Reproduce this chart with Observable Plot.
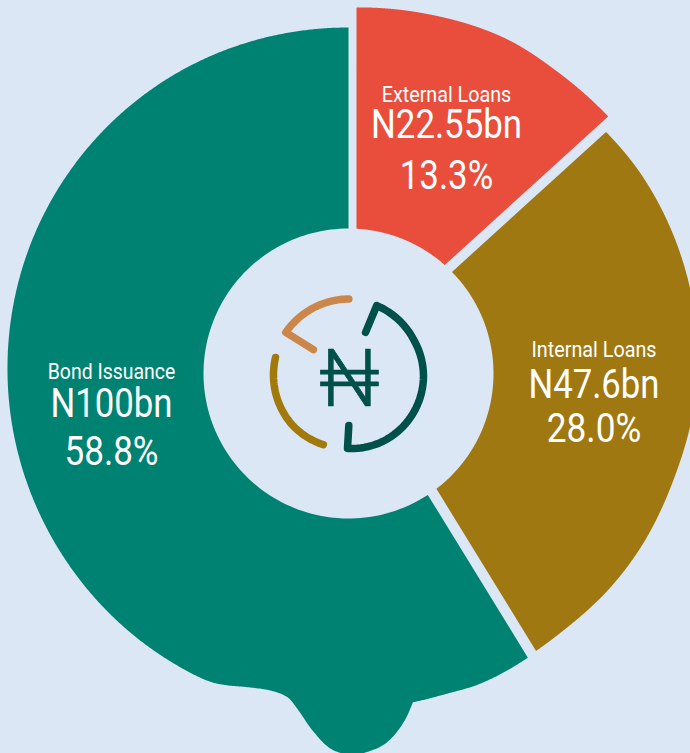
<!DOCTYPE html>
<html>
<head>
<meta charset="utf-8">
<script src="https://cdn.jsdelivr.net/npm/d3@7"></script>
<script src="https://cdn.jsdelivr.net/npm/@observablehq/plot@0.6"></script>
<style>
  html, body { margin: 0; padding: 0; background: #dbe7f5; overflow: hidden; }
  svg { display: block; }
</style>
</head>
<body>
<div id="chart"></div>
<script>
// --- Chart values -------------------------------------------------------
const sliceNames = ["External Loans", "Internal Loans", "Bond Issuance"];
const sliceValues = [22.55, 47.6, 100];
const sliceColors = ["#e94e3d", "#9f7811", "#008272"];

// Outer edge of each slice: radius at a clock angle (degrees)
const externalAngles = [0, 12, 25, 35, 48];
const externalRadii = [366, 368, 370, 367, 365];
const internalAngles = [46, 56, 76, 90, 98, 108, 121, 130, 140, 149];
const internalRadii = [353, 354, 352, 349, 346, 342, 340, 338, 335, 335];
const bondAngles = [147, 157, 163, 168.9, 171, 174, 177.2, 179.7, 182.7, 185.5, 188.7, 190.7, 193.8, 197.9, 201.8, 204.4, 210, 240, 270, 300, 330, 361];
const bondRadii = [336, 337, 335, 335, 353, 370.7, 379, 381, 375.7, 360.4, 339, 329.4, 326.5, 329.6, 335.4, 338, 338.5, 339, 341, 344, 346, 346];
const bondCorners = [168.9];

// Centre emblem arcs: clock angle and radius
const emblemNames = ["dark", "orange", "gold"];
const emblemColors = ["#00504a", "#cd864a", "#a27a0c"];
const darkAngles = [20, 21, 60, 90, 120, 150, 181.6, 180.8];
const darkRadii = [47, 76, 74, 74, 73.5, 73, 72, 49];
const orangeAngles = [359.5, 340, 320, 304.7, 306.6];
const orangeRadii = [77.5, 77.5, 77.5, 77.5, 45];
const goldAngles = [284.4, 270, 250, 230, 215, 201];
const goldRadii = [76.4, 76, 75.5, 75, 74, 73];

// --- Layout (separate from the values) ----------------------------------
const W = 690, H = 753;
const CX = 348, CY = 373, INNER = 145;
// signed shift of each slice edge from its radial line [start, end]
const edgeShift = [[8, -15.5], [-5.5, -14.5], [-4, 0]];
const labelLayout = [
  {x: 446, ys: [101.5, 137.5, 188], ws: [129.5, 151, 93.5]},
  {x: 593.5, ys: [356.2, 397, 441.5], ws: [125, 131, 94.5]},
  {x: 111, ys: [378.5, 416, 464], ws: [127.5, 122, 94]}
];
const labelSizes = [22, 40, 40];
const EMBLEM_C = {x: 349, y: 376};

// --- Geometry -----------------------------------------------------------
const rad = d => d * Math.PI / 180;
const polar = (a, r, c = {x: CX, y: CY}) => ({x: c.x - CX + r * Math.sin(rad(a)), y: c.y - CY - r * Math.cos(rad(a))});
const deg = t => t * 180 / Math.PI;

// smooth reading of an angle/radius table (Catmull-Rom through the read points);
// a listed corner keeps a sharp bend
function radiusAt(angles, radii, a, corners = []) {
  let i = d3.bisectRight(angles, a) - 1;
  i = Math.max(0, Math.min(angles.length - 2, i));
  const h = angles[i + 1] - angles[i];
  const t = (a - angles[i]) / h;
  const p0 = radii[Math.max(0, i - 1)], p1 = radii[i], p2 = radii[i + 1], p3 = radii[Math.min(radii.length - 1, i + 2)];
  const flat = (p2 - p1) / h;
  const m1 = (i > 0 && !corners.includes(angles[i]) ? (p2 - p0) / (angles[i + 1] - angles[i - 1]) : flat) * h;
  const m2 = (i + 2 < radii.length && !corners.includes(angles[i + 1]) ? (p3 - p1) / (angles[i + 2] - angles[i]) : flat) * h;
  const t2 = t * t, t3 = t2 * t;
  return (2 * t3 - 3 * t2 + 1) * p1 + (t3 - 2 * t2 + t) * m1 + (-2 * t3 + 3 * t2) * p2 + (t3 - t2) * m2;
}

const total = d3.sum(sliceValues);
const cumulative = d3.cumsum(sliceValues);
const tables = [[externalAngles, externalRadii, []], [internalAngles, internalRadii, []], [bondAngles, bondRadii, bondCorners]];

const slicePoints = sliceNames.flatMap((name, i) => {
  const a0 = (i ? cumulative[i - 1] : 0) / total * 360;
  const a1 = cumulative[i] / total * 360;
  const [sh0, sh1] = edgeShift[i];
  const [angles, radii, corners] = tables[i];
  const at = (a, sh, r) => a + deg(Math.asin(sh / r));
  const pts = [];
  // outer edge, clockwise; its corners sit where the shifted edge lines meet it
  const rs = radiusAt(angles, radii, a0, corners), re = radiusAt(angles, radii, a1, corners);
  const oa0 = at(a0, sh0, rs), oa1 = at(a1, sh1, re);
  const steps = d3.range(0, 801).map(k => oa0 + (oa1 - oa0) * k / 800);
  d3.sort([...steps, ...corners.filter(c => c > oa0 && c < oa1)]).forEach(a => {
    pts.push({slice: name, ...polar(a, radiusAt(angles, radii, a, corners))});
  });
  // inner edge, back anticlockwise
  const ia0 = at(a0, sh0, INNER), ia1 = at(a1, sh1, INNER);
  d3.range(0, 121).forEach(k => {
    const a = ia1 + (ia0 - ia1) * k / 120;
    pts.push({slice: name, ...polar(a, INNER)});
  });
  return pts;
});

const emblemTables = [[darkAngles, darkRadii], [orangeAngles, orangeRadii], [goldAngles, goldRadii]];
const emblemPoints = emblemNames.flatMap((name, i) => {
  const [angles, radii] = emblemTables[i];
  const pts = [];
  angles.forEach((a, k) => {
    pts.push({arc: name, ...polar(a, radii[k], EMBLEM_C)});
    // walk along the circle between neighbours, except on the straight tails
    const straight = k + 1 === angles.length || Math.abs(radii[k + 1] - radii[k]) > 10;
    if (!straight) {
      d3.range(1, 12).forEach(s => {
        const f = s / 12;
        pts.push({arc: name, ...polar(angles[k] + (angles[k + 1] - angles[k]) * f, radii[k] + (radii[k + 1] - radii[k]) * f, EMBLEM_C)});
      });
    }
  });
  return pts;
});

const labels = sliceNames.flatMap((name, i) => {
  const l = labelLayout[i];
  const texts = [name, `N${sliceValues[i]}bn`, `${(sliceValues[i] / total * 100).toFixed(1)}%`];
  return texts.map((t, k) => ({text: t, x: l.x - CX, y: l.ys[k] - CY, size: labelSizes[k], w: l.ws[k]}));
});

const svg = Plot.plot({
  width: W,
  height: H,
  margin: 0,
  style: {background: "#dbe7f5", overflow: "hidden"},
  x: {domain: [-CX, W - CX], range: [0, W], axis: null},
  y: {domain: [-CY, H - CY], range: [0, H], axis: null},
  color: {domain: [...sliceNames, ...emblemNames], range: [...sliceColors, ...emblemColors]},
  marks: [
    Plot.line(slicePoints, {x: "x", y: "y", z: "slice", fill: "slice", stroke: null, curve: "linear"}),
    Plot.line(emblemPoints, {x: "x", y: "y", z: "arc", stroke: "arc", strokeWidth: 7.5, strokeLinecap: "round", strokeLinejoin: "round", curve: "linear"}),
    Plot.text(labels, {x: "x", y: "y", text: "text", fontSize: "size", fill: "white", textAnchor: "middle", lineAnchor: "bottom", fontFamily: "Roboto"}),
    Plot.text(["₦"], {x: [EMBLEM_C.x - CX], y: [405 - CY], text: d => d, fontSize: 79, fontWeight: 300, fill: "#00504a", stroke: "#00504a", strokeWidth: 0.7, textAnchor: "middle", lineAnchor: "bottom", fontFamily: "Roboto, 'Noto Sans', 'Liberation Sans'"})
  ]
});

// Roboto Condensed is not installed: squeeze Roboto to the reference's text widths
svg.querySelectorAll("text").forEach((el, i) => {
  if (labels[i]) {
    el.setAttribute("textLength", labels[i].w);
    el.setAttribute("lengthAdjust", "spacingAndGlyphs");
  }
});
document.getElementById("chart").append(svg);
</script>
</body>
</html>
